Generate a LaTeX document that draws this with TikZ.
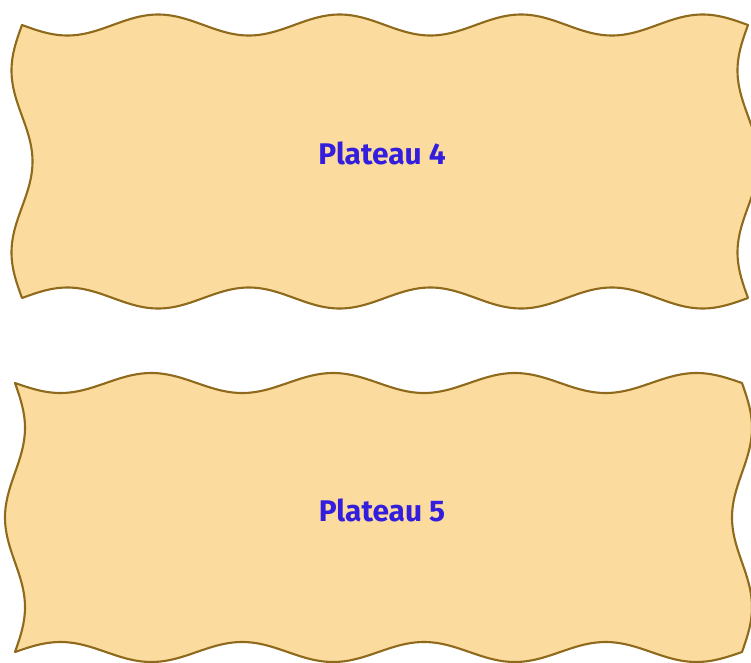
\documentclass[tikz,border=0pt]{standalone}
\usepackage{fontspec}
\usepackage{tikz}
\newfontfamily\comique{Fira Sans}
\definecolor{sable}{RGB}{251,220,158}
\definecolor{bordure}{RGB}{143,105,28}
\definecolor{bleu}{RGB}{52,30,222}

\begin{document}
\begin{tikzpicture}[x=0.02cm,y=-0.02cm,
plateau/.style={draw=bordure,fill=sable,line width=1.2pt,line join=round},
titre/.style={text=bleu,font=\comique\bfseries\fontsize{17}{20}\selectfont}
]
\useasboundingbox (0,0) rectangle (751,663);
\clip (0,0) rectangle (751,663);
% coins, amplitude, sens des bords lateraux, numero
\foreach \xa/\ya/\xb/\yb/\a/\s/\n/\ty in {22/25/748/298/10.5/-1/4/153,15/383/742/652/10/1/5/510}{
  \draw[plateau] plot[domain=\xa:\xb,samples=160,smooth] (\x,{\ya+\a*sin(1440/(\xb-\xa)*(\x-\xa))})
    -- plot[domain=\ya:\yb,samples=70,smooth] ({\xb+\s*\a*sin(540/(\yb-\ya)*(\x-\ya))},\x)
    -- plot[domain=\xb:\xa,samples=160,smooth] (\x,{\yb-\a*sin(1440/(\xb-\xa)*(\x-\xa))})
    -- plot[domain=\yb:\ya,samples=70,smooth] ({\xa+\s*\a*sin(540/(\yb-\ya)*(\x-\ya))},\x) -- cycle;
  \node[titre] (p\n) at (382,\ty) {Plateau \n};
}
\end{tikzpicture}
\end{document}
